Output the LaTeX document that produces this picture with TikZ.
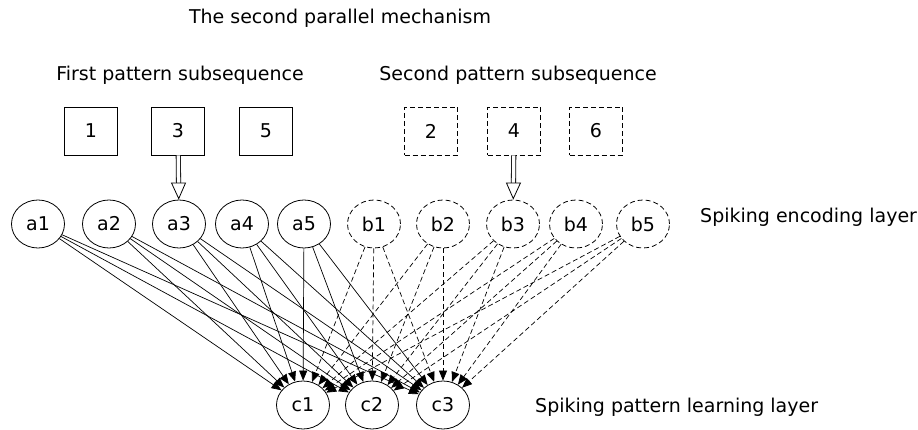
\documentclass[tikz,border=0pt]{standalone}
\usepackage{fontspec}
\setmainfont{DejaVu Sans}
\usepackage{tikz}
\usetikzlibrary{shapes.geometric, arrows.meta}

\begin{document}
\begin{tikzpicture}[
    x=1pt, y=-1pt,
    every node/.style={font=\fontsize{19}{22}\selectfont},
    seq/.style={rectangle, draw, line width=0.8pt, minimum width=53pt, minimum height=48pt, inner sep=0pt},
    seqd/.style={seq, dashed, dash pattern=on 5pt off 3pt},
    neuron/.style={ellipse, draw, line width=0.8pt, minimum width=53pt, minimum height=48pt, inner sep=0pt},
    neurond/.style={neuron, dash pattern=on 5pt off 3pt},
    edge/.style={-{Triangle[length=10pt, width=8pt]}, line width=0.7pt},
    edged/.style={edge, dash pattern=on 5pt off 3pt},
    feed/.style={double, double distance=3.5pt, line width=0.8pt,
                 -{Triangle[open, length=17pt, width=15pt]}}
]
    \useasboundingbox (0,0) rectangle (918,430);

    % Titles
    \node (title) at (340,18) {The second parallel mechanism};
    \node (first) at (180,75) {First pattern subsequence};
    \node (second) at (518,75) {Second pattern subsequence};

    % Pattern subsequences
    \node[seq]  (s1) at (91,131)  {1};
    \node[seq]  (s3) at (178,131) {3};
    \node[seq]  (s5) at (266,131) {5};
    \node[seqd] (s2) at (431,131) {2};
    \node[seqd] (s4) at (514,131) {4};
    \node[seqd] (s6) at (596,131) {6};

    % Spiking encoding layer
    \node[neuron]  (a1) at (38,224)  {a1};
    \node[neuron]  (a2) at (109,224) {a2};
    \node[neuron]  (a3) at (179,224) {a3};
    \node[neuron]  (a4) at (242,224) {a4};
    \node[neuron]  (a5) at (304,224) {a5};
    \node[neurond] (b1) at (374,224) {b1};
    \node[neurond] (b2) at (443,224) {b2};
    \node[neurond] (b3) at (513,224) {b3};
    \node[neurond] (b4) at (576,224) {b4};
    \node[neurond] (b5) at (643,224) {b5};
    \node[anchor=west, inner sep=0pt] (enc) at (700,217) {Spiking encoding layer};

    % Spiking pattern learning layer
    \node[neuron] (c1) at (303,405) {c1};
    \node[neuron] (c2) at (372,405) {c2};
    \node[neuron] (c3) at (443,405) {c3};
    \node[anchor=west, inner sep=0pt] (learn) at (535,407) {Spiking pattern learning layer};

    % Input into the encoding layer
    \draw[feed] (s3) -- (a3);
    \draw[feed] (s4) -- (b3);

    % Full connections to the learning layer
    \foreach \src in {a1,a2,a3,a4,a5}
        \foreach \dst in {c1,c2,c3}
            \draw[edge] (\src) -- (\dst);
    \foreach \src in {b1,b2,b3,b4,b5}
        \foreach \dst in {c1,c2,c3}
            \draw[edged] (\src) -- (\dst);

\end{tikzpicture}
\end{document}
